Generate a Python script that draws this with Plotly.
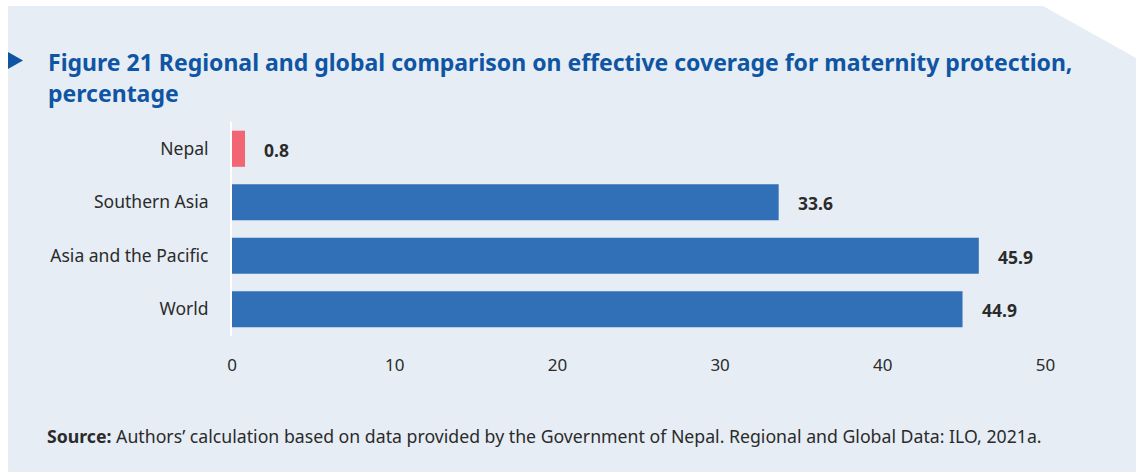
import plotly.graph_objects as go

# Effective coverage for maternity protection (%)
regions = ["Nepal", "Southern Asia", "Asia and the Pacific", "World"]
coverage = [0.8, 33.6, 45.9, 44.9]
bar_colors = ["#f26673", "#316fb7", "#316fb7", "#316fb7"]
x_ticks = [0, 10, 20, 30, 40, 50]

W, H = 1136, 472
L, R, T, B = 232, 84, 122, 136
PW, PH = W - L - R, H - T - B
FONT = "Noto Sans"
TEXT = "#2b2b2b"
BLUE_TITLE = "#0f55a3"


def px(x):
    return (x - L) / PW


def py(y):
    return (H - B - y) / PH


fig = go.Figure()
fig.add_trace(go.Bar(
    x=coverage, y=regions, orientation="h",
    marker=dict(color=bar_colors, line=dict(width=0)),
    width=0.675, hoverinfo="skip",
))

# value labels to the right of each bar
for r, v in zip(regions, coverage):
    fig.add_annotation(
        x=v, y=r, xref="x", yref="y", text=f"<b>{v}</b>",
        showarrow=False, xanchor="left", yanchor="middle",
        xshift=17, yshift=-1,
        font=dict(family=FONT, size=17.5, color=TEXT),
    )

# panel background with a clipped top-right corner
panel = (f"M {px(8)} {py(6)} L {px(1043)} {py(6)} L {px(1136)} {py(58)} "
         f"L {px(1136)} {py(472)} L {px(8)} {py(472)} Z")
fig.add_shape(type="path", path=panel, xref="paper", yref="paper",
              fillcolor="#e6edf5", line=dict(width=0), layer="below")

# title marker triangle
tri = f"M {px(8)} {py(52)} L {px(23)} {py(60.5)} L {px(8)} {py(69)} Z"
fig.add_shape(type="path", path=tri, xref="paper", yref="paper",
              fillcolor="#0f55a3", line=dict(width=0))

fig.add_annotation(
    x=px(46), y=py(62), xref="paper", yref="paper", showarrow=False,
    xanchor="left", yanchor="middle",
    text="<b>Figure 21 Regional and global comparison on effective coverage for maternity protection,</b>",
    font=dict(family=FONT, size=23, color=BLUE_TITLE),
)
fig.add_annotation(
    x=px(46), y=py(93), xref="paper", yref="paper", showarrow=False,
    xanchor="left", yanchor="middle",
    text="<b>percentage</b>",
    font=dict(family=FONT, size=23, color=BLUE_TITLE),
)
fig.add_annotation(
    x=px(45), y=py(436), xref="paper", yref="paper", showarrow=False,
    xanchor="left", yanchor="middle",
    text="<b>Source:</b> Authors’ calculation based on data provided by the Government of Nepal. Regional and Global Data: ILO, 2021a.",
    font=dict(family=FONT, size=17.7, color=TEXT),
)

fig.update_layout(
    width=W, height=H,
    margin=dict(l=L, r=R, t=T, b=B, pad=0),
    paper_bgcolor="white", plot_bgcolor="rgba(0,0,0,0)",
    showlegend=False, bargap=0.325,
    font=dict(family=FONT, color=TEXT),
    xaxis=dict(
        range=[0, 50.4], tickvals=x_ticks, showgrid=False, zeroline=False,
        showline=False, ticks="outside", ticklen=14, tickcolor="rgba(0,0,0,0)",
        tickfont=dict(family=FONT, size=17, color=TEXT), fixedrange=True,
    ),
    yaxis=dict(
        categoryorder="array", categoryarray=regions[::-1], range=[-0.5, 3.5],
        showgrid=False, zeroline=False, showline=True, linecolor="white",
        linewidth=2, ticks="outside", ticklen=18, tickcolor="rgba(0,0,0,0)",
        tickfont=dict(family=FONT, size=17.5, color=TEXT), fixedrange=True,
    ),
)

fig.write_html("out.html", config={"displayModeBar": False})
